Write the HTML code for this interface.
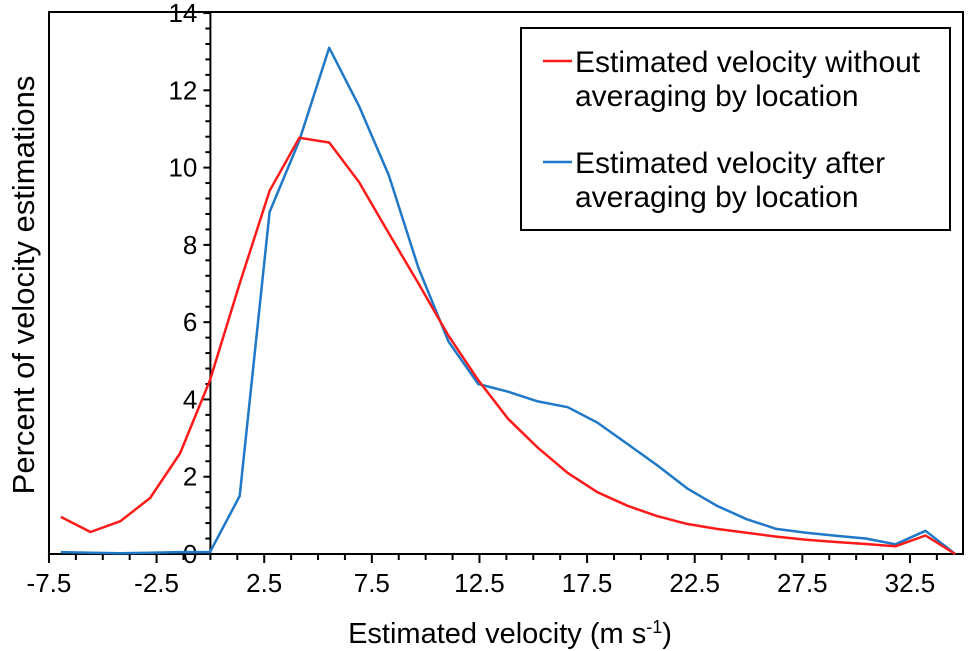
<!DOCTYPE html>
<html><head><meta charset="utf-8">
<style>
html,body{margin:0;padding:0;background:#fff;}
svg{display:block;font-family:"Liberation Sans",Arial,sans-serif;}
</style></head>
<body>
<svg id="chart" width="968" height="651" viewBox="0 0 968 651" xmlns="http://www.w3.org/2000/svg">
  <rect x="49" y="12" width="914" height="542" fill="none" stroke="#000" stroke-width="2"/>
  <g id="axes"></g>
  <g id="series"></g>
  <text transform="translate(34,285) rotate(-90)" text-anchor="middle" font-size="31" fill="#000">Percent of velocity estimations</text>
  <text x="510" y="643" text-anchor="middle" font-size="29" fill="#000">Estimated velocity (m s<tspan dy="-10" font-size="18">-1</tspan><tspan dy="10">)</tspan></text>
  <g>
    <rect x="521" y="28" width="429" height="202" fill="#fff" stroke="#000" stroke-width="2"/>
    <line x1="543" y1="61" x2="572" y2="61" stroke="#ff1a1a" stroke-width="2.5"/>
    <text x="575" y="72" font-size="30" fill="#000">Estimated velocity without</text>
    <text x="575" y="106" font-size="30" fill="#000">averaging by location</text>
    <line x1="543" y1="162" x2="572" y2="162" stroke="#1f78c8" stroke-width="2.5"/>
    <text x="575" y="173" font-size="30" fill="#000">Estimated velocity after</text>
    <text x="575" y="207" font-size="30" fill="#000">averaging by location</text>
  </g>
</svg>
<script>
const xValues = [-6.95,-5.57,-4.18,-2.80,-1.41,-0.02,1.36,2.75,4.13,5.52,6.90,8.29,9.67,11.06,12.44,13.83,15.21,16.60,17.98,19.37,20.75,22.14,23.52,24.91,26.29,27.68,29.06,30.45,31.83,33.22,34.60];
const redValues = [0.96,0.57,0.85,1.45,2.6,4.5,7.0,9.4,10.77,10.65,9.63,8.3,7.0,5.65,4.5,3.5,2.75,2.1,1.6,1.25,0.98,0.78,0.65,0.55,0.45,0.37,0.31,0.26,0.2,0.48,0];
const blueValues = [0.05,0.03,0.02,0.03,0.05,0.05,1.5,8.85,10.7,13.1,11.6,9.8,7.4,5.5,4.4,4.2,3.95,3.8,3.4,2.85,2.3,1.7,1.25,0.9,0.65,0.55,0.47,0.4,0.25,0.6,0];
const xTickLabels = ["-7.5","-2.5","2.5","7.5","12.5","17.5","22.5","27.5","32.5"];
const yTickLabels = ["0","2","4","6","8","10","12","14"];

const NS = "http://www.w3.org/2000/svg";
function X(v){ return 210.4 + v * 21.525; }
function Y(v){ return 554 - v * 38.64; }
function mk(tag, attrs, parent){
  const e = document.createElementNS(NS, tag);
  for (const k in attrs) e.setAttribute(k, attrs[k]);
  parent.appendChild(e);
  return e;
}
const axes = document.getElementById('axes');
const series = document.getElementById('series');

const ya = mk('line', {x1:X(0), y1:12, x2:X(0), y2:554, stroke:'#000', 'stroke-width':2}, axes);



for (let i = 0; i <= 35; i++) {
  const v = i * 0.4;
  const major = (i % 5 === 0);
  const t = mk('line', {x1:X(0) - (major ? 7 : 5), y1:Y(v), x2:X(0), y2:Y(v), stroke:'#000', 'stroke-width':2}, axes);
  
  
}
yTickLabels.forEach(function(lbl){
  const v = parseFloat(lbl);
  const t = mk('text', {x:X(0) - 13, y:Y(v) + 9, 'text-anchor':'end', 'font-size':26, fill:'#000'}, axes);
  t.textContent = lbl;
  
  
});

for (let i = 0; i <= 33; i++) {
  const v = -7.5 + i * 1.25;
  if (X(v) > 963) break;
  const major = (i % 4 === 0);
  const t = mk('line', {x1:X(v), y1:554, x2:X(v), y2:554 + (major ? 9 : 6), stroke:'#000', 'stroke-width':2}, axes);
  
  
}
xTickLabels.forEach(function(lbl){
  const v = parseFloat(lbl);
  const t = mk('text', {x:X(v), y:592, 'text-anchor':'middle', 'font-size':26, fill:'#000'}, axes);
  t.textContent = lbl;
  
  
});

function pts(vals){ return vals.map(function(v,i){ return X(xValues[i]).toFixed(1) + ',' + Y(v).toFixed(1); }).join(' '); }
const blue = mk('polyline', {points:pts(blueValues), fill:'none', stroke:'#1f78c8', 'stroke-width':2.5, 'stroke-linejoin':'round'}, series);


const red = mk('polyline', {points:pts(redValues), fill:'none', stroke:'#ff1a1a', 'stroke-width':2.5, 'stroke-linejoin':'round'}, series);


</script>
</body></html>
